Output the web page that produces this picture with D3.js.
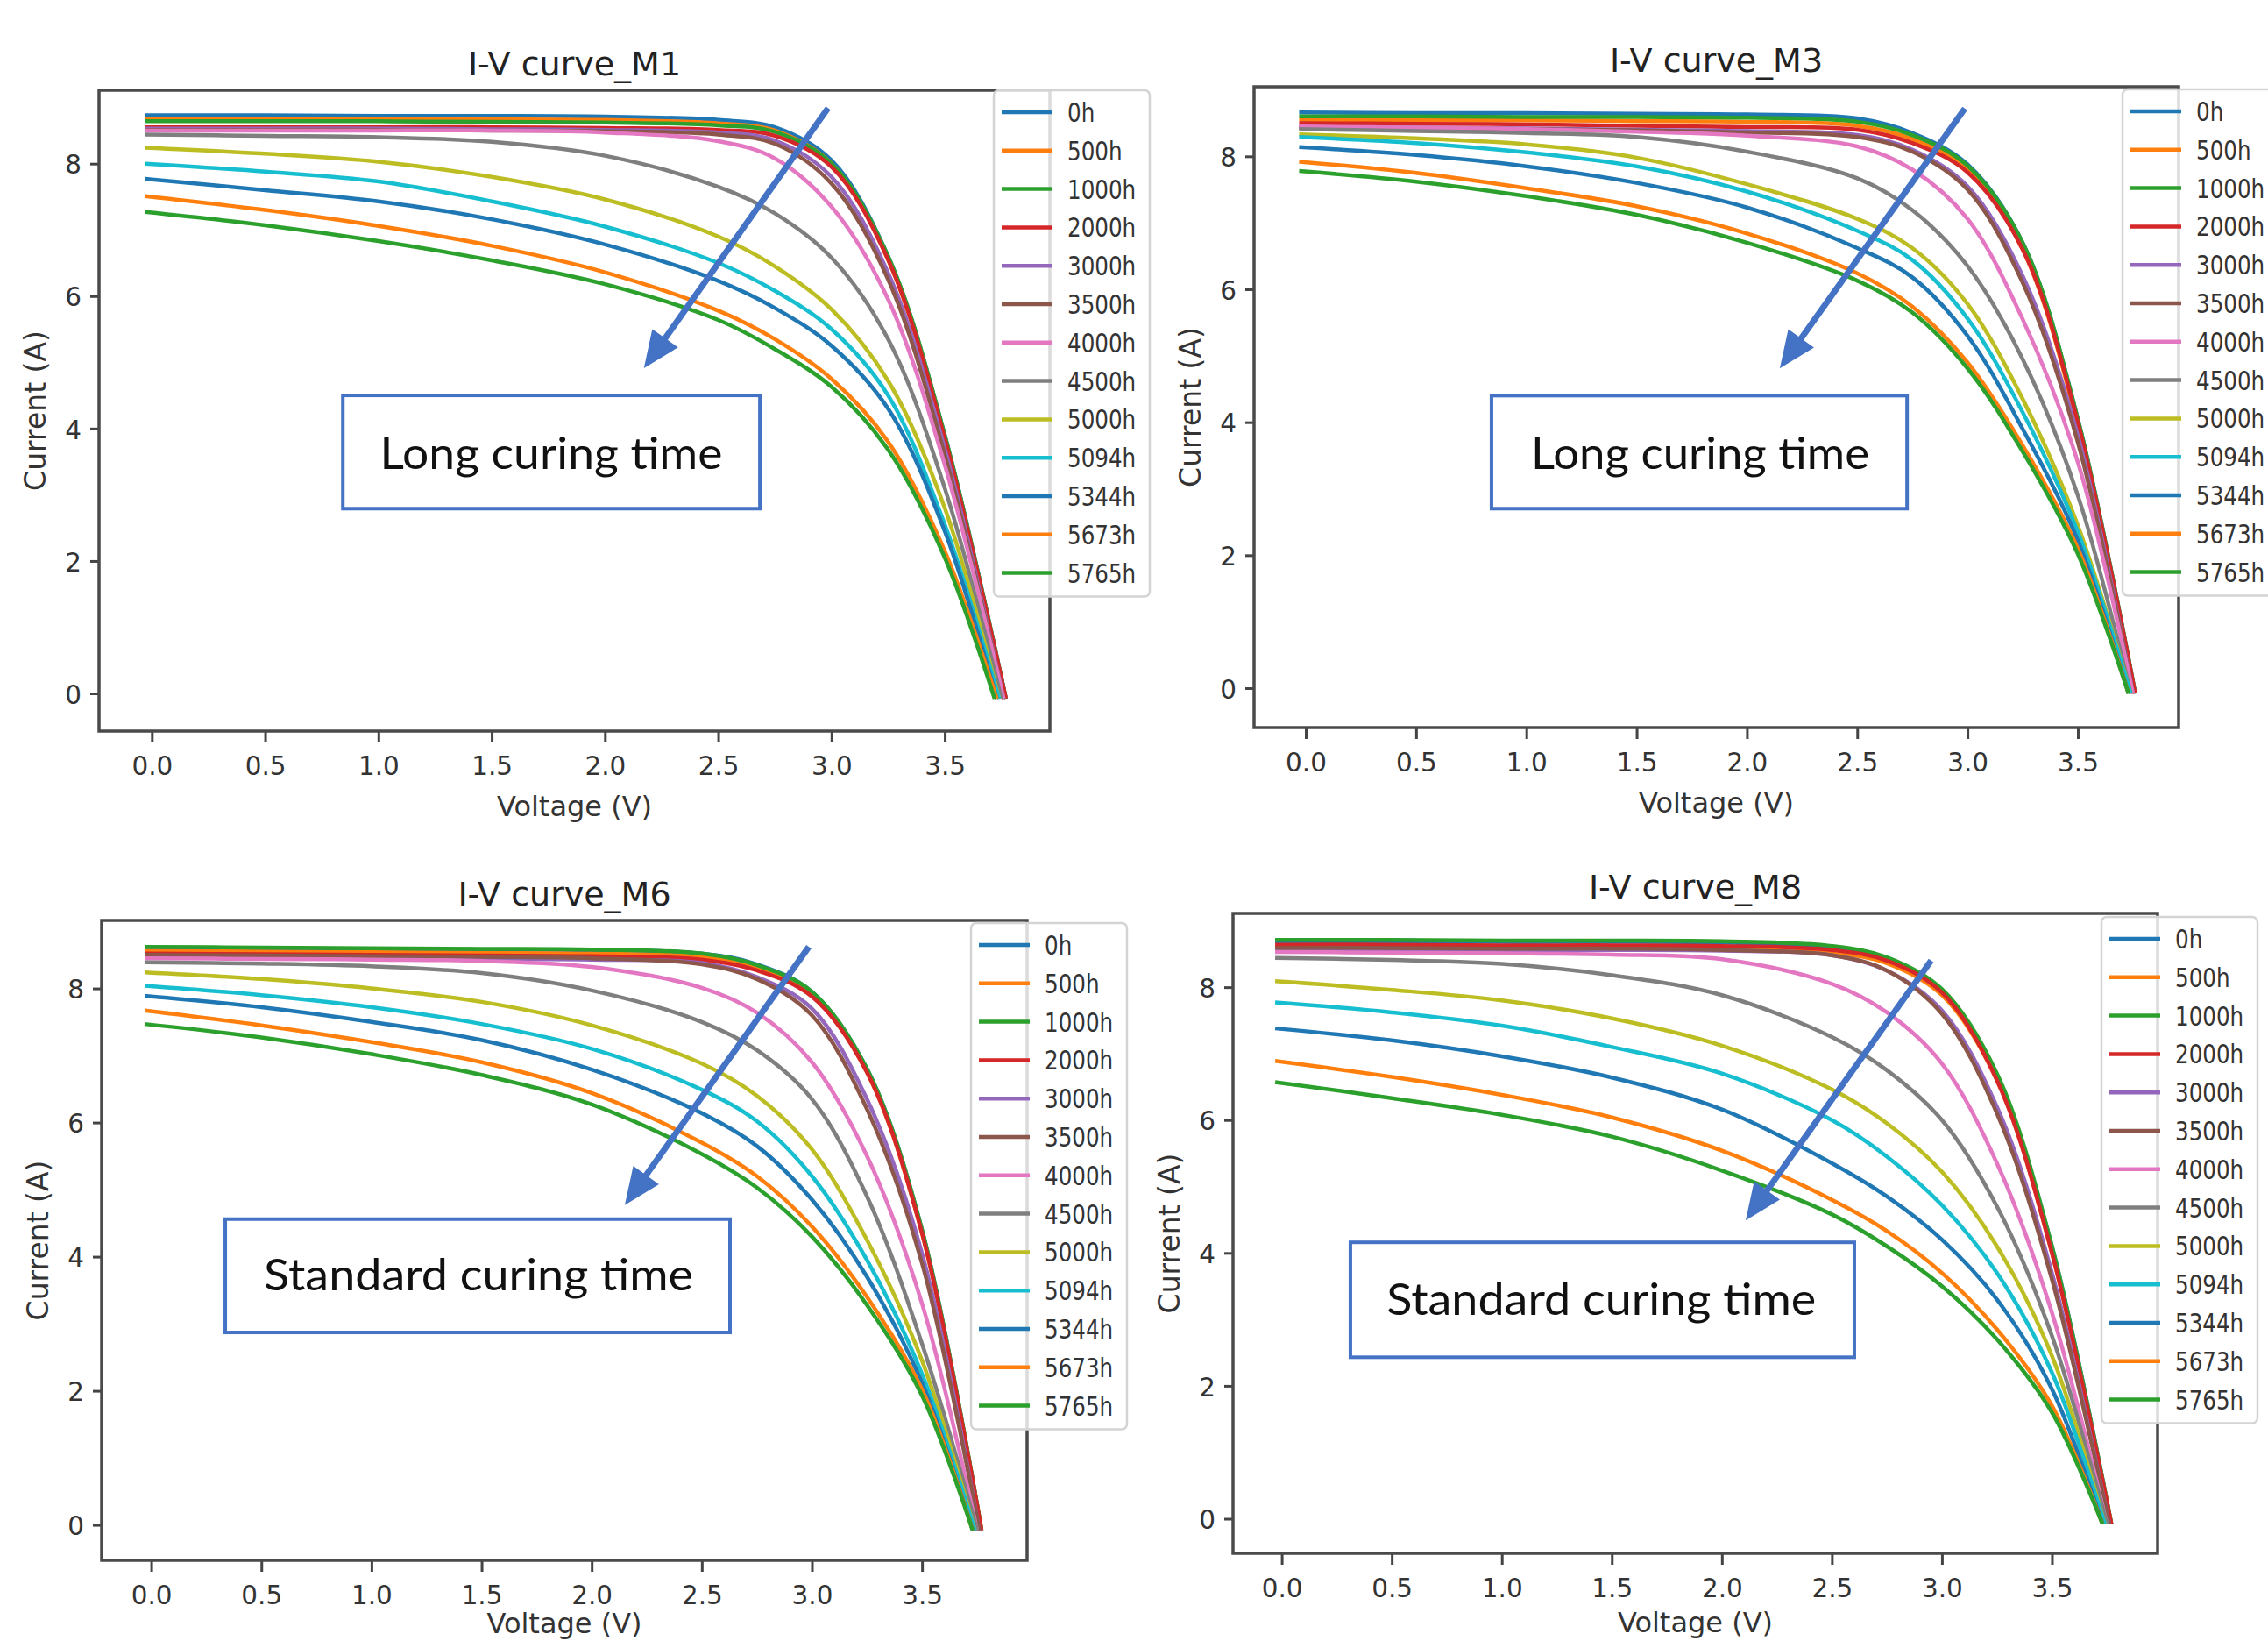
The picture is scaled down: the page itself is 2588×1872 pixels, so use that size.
<!DOCTYPE html>
<html>
<head>
<meta charset="utf-8">
<script src="https://cdn.jsdelivr.net/npm/d3@7"></script>
<style>
  html, body { margin: 0; padding: 0; background: #ffffff; }
  svg { display: block; }
</style>
</head>
<body>
<script>
// ---------------- DATA ----------------
const seriesLabels = ["0h","500h","1000h","2000h","3000h","3500h","4000h","4500h","5000h","5094h","5344h","5673h","5765h"];
const voltageGrid = [-0.03, 0.5, 1.0, 1.5, 2.0, 2.5, 2.75, 3.0, 3.25, 3.5];
const endCurrent = -0.08;
const xTicks = [0, 0.5, 1.0, 1.5, 2.0, 2.5, 3.0, 3.5];
const yTicks = [0, 2, 4, 6, 8];
const panelTitles = ["I-V curve_M1", "I-V curve_M3", "I-V curve_M6", "I-V curve_M8"];
const annotationTexts = ["Long curing time", "Long curing time", "Standard curing time", "Standard curing time"];

const currentM1 = [
  [8.73, 8.73, 8.72, 8.72, 8.71, 8.66, 8.55, 8.05, 6.60, 3.90],
  [8.68, 8.68, 8.67, 8.67, 8.66, 8.61, 8.50, 8.00, 6.55, 3.85],
  [8.64, 8.64, 8.64, 8.63, 8.62, 8.58, 8.48, 8.00, 6.60, 3.90],
  [8.55, 8.55, 8.55, 8.55, 8.54, 8.51, 8.42, 7.95, 6.55, 3.85],
  [8.53, 8.53, 8.53, 8.52, 8.51, 8.47, 8.35, 7.80, 6.35, 3.70],
  [8.51, 8.51, 8.51, 8.50, 8.49, 8.44, 8.30, 7.70, 6.25, 3.60],
  [8.50, 8.50, 8.50, 8.50, 8.47, 8.34, 8.08, 7.35, 5.95, 3.45],
  [8.44, 8.42, 8.40, 8.33, 8.12, 7.65, 7.25, 6.58, 5.35, 3.10],
  [8.24, 8.15, 8.03, 7.80, 7.46, 6.90, 6.45, 5.80, 4.72, 2.80],
  [8.00, 7.88, 7.73, 7.43, 7.05, 6.50, 6.08, 5.50, 4.50, 2.55],
  [7.77, 7.60, 7.43, 7.16, 6.78, 6.23, 5.82, 5.25, 4.30, 2.45],
  [7.51, 7.30, 7.06, 6.76, 6.36, 5.78, 5.35, 4.75, 3.80, 2.15],
  [7.27, 7.07, 6.83, 6.54, 6.18, 5.64, 5.20, 4.63, 3.68, 2.05]
];
const vocM1 = [3.77, 3.76, 3.77, 3.77, 3.76, 3.76, 3.76, 3.75, 3.74, 3.74, 3.73, 3.73, 3.72];

const currentM3 = [
  [8.66, 8.65, 8.65, 8.64, 8.63, 8.57, 8.35, 7.88, 6.70, 4.05],
  [8.55, 8.54, 8.54, 8.53, 8.52, 8.46, 8.26, 7.80, 6.60, 3.95],
  [8.60, 8.60, 8.59, 8.59, 8.58, 8.52, 8.32, 7.86, 6.70, 4.05],
  [8.50, 8.49, 8.48, 8.46, 8.44, 8.40, 8.20, 7.76, 6.60, 4.00],
  [8.44, 8.43, 8.42, 8.40, 8.38, 8.32, 8.10, 7.55, 6.20, 3.80],
  [8.43, 8.42, 8.41, 8.39, 8.36, 8.29, 8.07, 7.50, 6.10, 3.70],
  [8.45, 8.43, 8.41, 8.37, 8.31, 8.15, 7.80, 7.06, 5.55, 3.40],
  [8.41, 8.38, 8.35, 8.29, 8.07, 7.67, 7.19, 6.35, 4.95, 2.90],
  [8.33, 8.27, 8.18, 7.98, 7.58, 7.06, 6.62, 5.78, 4.35, 2.45],
  [8.29, 8.20, 8.06, 7.85, 7.47, 6.88, 6.44, 5.56, 4.15, 2.35],
  [8.14, 8.02, 7.85, 7.60, 7.23, 6.62, 6.18, 5.30, 3.90, 2.22],
  [7.92, 7.75, 7.52, 7.25, 6.84, 6.24, 5.74, 4.90, 3.65, 2.10],
  [7.78, 7.62, 7.40, 7.12, 6.70, 6.13, 5.65, 4.81, 3.56, 2.02]
];
const vocM3 = [3.76, 3.75, 3.76, 3.76, 3.75, 3.75, 3.75, 3.74, 3.74, 3.74, 3.73, 3.73, 3.73];

const currentM6 = [
  [8.61, 8.60, 8.59, 8.58, 8.57, 8.52, 8.36, 7.95, 6.80, 4.40],
  [8.56, 8.55, 8.54, 8.53, 8.52, 8.47, 8.30, 7.90, 6.75, 4.35],
  [8.62, 8.61, 8.60, 8.59, 8.58, 8.52, 8.35, 7.95, 6.80, 4.40],
  [8.52, 8.51, 8.50, 8.49, 8.48, 8.43, 8.27, 7.88, 6.75, 4.35],
  [8.47, 8.46, 8.45, 8.44, 8.43, 8.38, 8.17, 7.70, 6.35, 4.05],
  [8.50, 8.49, 8.48, 8.47, 8.45, 8.36, 8.14, 7.60, 6.20, 3.90],
  [8.45, 8.44, 8.43, 8.41, 8.32, 8.01, 7.64, 6.90, 5.50, 3.30],
  [8.39, 8.37, 8.33, 8.23, 7.97, 7.50, 7.08, 6.35, 4.90, 2.70],
  [8.24, 8.14, 8.00, 7.80, 7.45, 6.88, 6.40, 5.60, 4.25, 2.45],
  [8.04, 7.90, 7.72, 7.47, 7.10, 6.49, 6.02, 5.20, 3.95, 2.25],
  [7.89, 7.72, 7.50, 7.23, 6.79, 6.14, 5.65, 4.85, 3.70, 2.12],
  [7.67, 7.45, 7.20, 6.90, 6.44, 5.70, 5.20, 4.45, 3.40, 2.02],
  [7.47, 7.27, 7.02, 6.71, 6.27, 5.53, 5.03, 4.30, 3.28, 1.93]
];
const vocM6 = [3.77, 3.77, 3.77, 3.77, 3.76, 3.76, 3.75, 3.75, 3.74, 3.74, 3.73, 3.73, 3.73];

const currentM8 = [
  [8.69, 8.69, 8.68, 8.68, 8.67, 8.60, 8.43, 7.95, 6.65, 4.10],
  [8.60, 8.60, 8.59, 8.59, 8.58, 8.52, 8.36, 7.88, 6.60, 4.00],
  [8.71, 8.71, 8.70, 8.70, 8.69, 8.62, 8.45, 7.97, 6.70, 4.10],
  [8.64, 8.64, 8.63, 8.63, 8.62, 8.56, 8.40, 7.92, 6.60, 4.00],
  [8.57, 8.57, 8.56, 8.56, 8.55, 8.48, 8.25, 7.65, 6.20, 3.70],
  [8.59, 8.59, 8.58, 8.58, 8.56, 8.48, 8.25, 7.60, 6.10, 3.60],
  [8.53, 8.52, 8.51, 8.49, 8.42, 8.05, 7.62, 6.85, 5.35, 3.10],
  [8.44, 8.41, 8.35, 8.18, 7.88, 7.25, 6.75, 6.00, 4.70, 2.75],
  [8.09, 7.96, 7.80, 7.53, 7.12, 6.46, 5.95, 5.22, 4.10, 2.45],
  [7.77, 7.62, 7.42, 7.10, 6.70, 6.00, 5.45, 4.72, 3.70, 2.20],
  [7.38, 7.20, 6.96, 6.64, 6.16, 5.35, 4.85, 4.20, 3.30, 1.95],
  [6.89, 6.65, 6.38, 6.04, 5.54, 4.80, 4.33, 3.70, 2.85, 1.70],
  [6.57, 6.33, 6.08, 5.75, 5.24, 4.58, 4.10, 3.50, 2.70, 1.60]
];
const vocM8 = [3.77, 3.77, 3.77, 3.77, 3.76, 3.76, 3.75, 3.75, 3.74, 3.74, 3.73, 3.73, 3.73];

// annotation arrows (data coordinates: [voltage, current])
const arrowStartV = [2.985, 2.988, 2.986, 2.951];
const arrowStartI = [8.84, 8.72, 8.62, 8.40];
const arrowEndV   = [2.172, 2.149, 2.150, 2.108];
const arrowEndI   = [4.91, 4.81, 4.77, 4.49];
// annotation boxes (data coordinates)
const boxV0 = [0.843, 0.842, 0.336, 0.312];
const boxV1 = [2.684, 2.726, 2.628, 2.602];
const boxI0 = [4.50, 4.40, 4.56, 4.16];
const boxI1 = [2.79, 2.70, 2.87, 2.43];
const labelV = [1.763, 1.788, 1.486, 1.452];
const labelI = [3.39, 3.30, 3.50, 3.07];

// ---------------- LAYOUT / STYLE ----------------
const W = 2588, H = 1872;
const colors = ["#1f77b4","#ff7f0e","#2ca02c","#d62728","#9467bd","#8c564b","#e377c2","#7f7f7f","#bcbd22","#17becf","#1f77b4","#ff7f0e","#2ca02c"];
const panels = [
  { cur: currentM1, voc: vocM1, left: 113, right: 1198, top: 103, bottom: 834, xd: [-0.2333, 3.964], yd: [-0.569, 9.108], legTop: 103, labelW: 391, xlabY: 931 },
  { cur: currentM3, voc: vocM3, left: 1431, right: 2486, top: 99, bottom: 830, xd: [-0.2344, 3.957], yd: [-0.593, 9.046], legTop: 102, labelW: 386, xlabY: 927 },
  { cur: currentM6, voc: vocM6, left: 116, right: 1172, top: 1050, bottom: 1780, xd: [-0.2252, 3.977], yd: [-0.528, 9.014], legTop: 1053, labelW: 490, xlabY: 1863 },
  { cur: currentM8, voc: vocM8, left: 1407, right: 2462, top: 1042, bottom: 1772, xd: [-0.2214, 3.980], yd: [-0.521, 9.110], legTop: 1046, labelW: 490, xlabY: 1862 }
];
const FONT = "'DejaVu Sans', sans-serif";
const annBlue = "#4472c4";

const svg = d3.select("body").append("svg")
  .attr("width", W).attr("height", H)
  .attr("viewBox", `0 0 ${W} ${H}`);
svg.append("rect").attr("width", W).attr("height", H).attr("fill", "#ffffff");

panels.forEach((p, pi) => {
  const g = svg.append("g");
  const x = d3.scaleLinear().domain(p.xd).range([p.left, p.right]);
  const y = d3.scaleLinear().domain(p.yd).range([p.bottom, p.top]);

  const clipId = "clip" + pi;
  svg.append("clipPath").attr("id", clipId).append("rect")
    .attr("x", p.left).attr("y", p.top)
    .attr("width", p.right - p.left).attr("height", p.bottom - p.top);

  // curves
  const line = d3.line().x(d => x(d[0])).y(d => y(d[1])).curve(d3.curveCatmullRom.alpha(0.5));
  const lines = g.append("g").attr("clip-path", `url(#${clipId})`);
  p.cur.forEach((row, si) => {
    const pts = voltageGrid.map((v, j) => [v, row[j]]).concat([[p.voc[si], endCurrent]]);
    lines.append("path")
      .attr("d", line(pts))
      .attr("fill", "none")
      .attr("stroke", colors[si])
      .attr("stroke-width", 4.5)
      .attr("stroke-linejoin", "round")
      .attr("stroke-linecap", "butt");
  });

  // axes
  const xAxis = g.append("g").attr("transform", `translate(0,${p.bottom})`)
    .call(d3.axisBottom(x).tickValues(xTicks).tickFormat(d3.format(".1f")).tickSize(13).tickPadding(8));
  const yAxis = g.append("g").attr("transform", `translate(${p.left},0)`)
    .call(d3.axisLeft(y).tickValues(yTicks).tickFormat(d3.format("d")).tickSize(10).tickPadding(10));
  [xAxis, yAxis].forEach(a => {
    a.select(".domain").remove();
    a.selectAll(".tick line").attr("stroke", "#444").attr("stroke-width", 3);
    a.selectAll(".tick text")
      .attr("fill", "#333").attr("font-family", FONT).attr("font-size", 31);
  });
  xAxis.selectAll(".tick text").attr("y", 50).attr("dy", null).attr("transform", "scale(0.95,1)");
  yAxis.selectAll(".tick text").attr("x", -20 / 0.95).attr("dy", "0.36em").attr("transform", "scale(0.95,1)");

  // frame (spines)
  g.append("rect")
    .attr("x", p.left).attr("y", p.top)
    .attr("width", p.right - p.left).attr("height", p.bottom - p.top)
    .attr("fill", "none").attr("stroke", "#4a4a4a").attr("stroke-width", 3.5);

  // title and axis labels
  g.append("text").text(panelTitles[pi])
    .attr("x", (p.left + p.right) / 2).attr("y", p.top - 17)
    .attr("text-anchor", "middle").attr("font-family", FONT).attr("font-size", 38).attr("fill", "#222");
  g.append("text").text("Voltage (V)")
    .attr("x", (p.left + p.right) / 2).attr("y", p.xlabY)
    .attr("text-anchor", "middle").attr("font-family", FONT).attr("font-size", 32).attr("fill", "#333");
  g.append("text").text("Current (A)")
    .attr("transform", `translate(${p.left - 61},${(p.top + p.bottom) / 2}) rotate(-90)`)
    .attr("text-anchor", "middle").attr("font-family", FONT).attr("font-size", 33).attr("fill", "#333");

  // annotation box
  const bx0 = x(boxV0[pi]), bx1 = x(boxV1[pi]), by0 = y(boxI0[pi]), by1 = y(boxI1[pi]);
  g.append("rect")
    .attr("x", bx0).attr("y", by0).attr("width", bx1 - bx0).attr("height", by1 - by0)
    .attr("fill", "#ffffff").attr("stroke", annBlue).attr("stroke-width", 4);
  g.append("text").text(annotationTexts[pi])
    .attr("x", x(labelV[pi])).attr("y", y(labelI[pi]))
    .attr("text-anchor", "middle")
    .attr("font-family", "Lato, 'Open Sans', sans-serif").attr("font-size", 50).attr("fill", "#111")
    .attr("textLength", p.labelW).attr("lengthAdjust", "spacingAndGlyphs");

  // arrow
  const sx = x(arrowStartV[pi]), sy = y(arrowStartI[pi]);
  const ex = x(arrowEndV[pi]), ey = y(arrowEndI[pi]);
  const len = Math.hypot(ex - sx, ey - sy);
  const ux = (ex - sx) / len, uy = (ey - sy) / len;
  const headL = 42, headW = 18;
  const hx = ex - ux * headL, hy = ey - uy * headL;
  g.append("line")
    .attr("x1", sx).attr("y1", sy).attr("x2", hx + ux * 4).attr("y2", hy + uy * 4)
    .attr("stroke", annBlue).attr("stroke-width", 7);
  g.append("path")
    .attr("d", `M${ex},${ey} L${hx - uy * headW},${hy + ux * headW} L${hx + uy * headW},${hy - ux * headW} Z`)
    .attr("fill", annBlue);

  // legend
  const lx = p.right - 64, lw = 178;
  const ly = p.legTop, step = 43.8, firstY = ly + 25;
  const lh = 25 + step * 12 + 27;
  const leg = g.append("g");
  leg.append("rect")
    .attr("x", lx).attr("y", ly).attr("width", lw).attr("height", lh)
    .attr("rx", 6).attr("ry", 6)
    .attr("fill", "#ffffff").attr("fill-opacity", 0.8)
    .attr("stroke", "#d4d4d4").attr("stroke-width", 2.5);
  seriesLabels.forEach((lab, si) => {
    const yy = firstY + step * si;
    leg.append("line")
      .attr("x1", lx + 9).attr("x2", lx + 67).attr("y1", yy).attr("y2", yy)
      .attr("stroke", colors[si]).attr("stroke-width", 4.5);
    leg.append("text").text(lab)
      .attr("transform", `translate(${lx + 84},${yy + 11}) scale(0.82,1)`)
      .attr("font-family", FONT).attr("font-size", 30).attr("fill", "#333");
  });
});
</script>
</body>
</html>
